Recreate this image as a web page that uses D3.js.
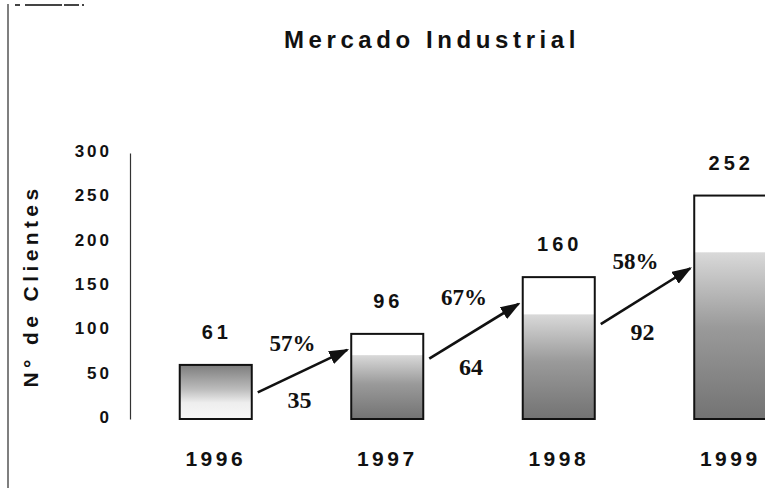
<!DOCTYPE html>
<html>
<head>
<meta charset="utf-8">
<title>Mercado Industrial</title>
<script src="https://cdn.jsdelivr.net/npm/d3@7"></script>
<style>
	html, body {
		margin: 0;
		padding: 0;
		background: #ffffff;
	}
	svg {
		display: block;
		font-family: "Liberation Sans", Arial, sans-serif;
	}
</style>
</head>
<body>
<div id="graph"></div>
<script>

// Chart data:
let years = ["1996", "1997", "1998", "1999"];
let clientes = [61, 96, 160, 252];
// Height the grey shading reaches inside each bar:
let shadeTop = [61, 72, 118, 188];
// Growth between consecutive years:
let growthPct = [57, 67, 58];
let growthAbs = [35, 64, 92];
// Where each arrow leaves / arrives (in axis units):
let arrowFrom = [30, 68, 107];
let arrowTo = [78, 130, 170];
let yTicks = [0, 50, 100, 150, 200, 250, 300];

let width = 765;
let height = 488;

let padding = {
	top: 153,
	bottom: 419,
	left: 130
	};

let svg = d3.select("#graph")
	.append("svg")
		.attr("width", width)
		.attr("height", height)
	;

// Scales:
let xScale = d3.scaleBand()
	.domain(years)
	.range([padding.left, 816])
	.paddingInner(0.58)
	.paddingOuter(0.29)
	;

let yScale = d3.scaleLinear()
	.domain([0, 300])
	.range([padding.bottom, padding.top])
	;

// Gradients for the bar shading:
let defs = svg.append("defs");

let gradUp = defs.append("linearGradient")
	.attr("id", "gradUp")
	.attr("x1", 0).attr("y1", 1)
	.attr("x2", 0).attr("y2", 0)
	;
gradUp.append("stop").attr("offset", "0%").attr("stop-color", "#737373");
gradUp.append("stop").attr("offset", "55%").attr("stop-color", "#9a9a9a");
gradUp.append("stop").attr("offset", "100%").attr("stop-color", "#d9d9d9");

// First bar was scanned the other way round (dark on top):
let gradDown = defs.append("linearGradient")
	.attr("id", "gradDown")
	.attr("x1", 0).attr("y1", 0)
	.attr("x2", 0).attr("y2", 1)
	;
gradDown.append("stop").attr("offset", "0%").attr("stop-color", "#7d7d7d");
gradDown.append("stop").attr("offset", "45%").attr("stop-color", "#bcbcbc");
gradDown.append("stop").attr("offset", "70%").attr("stop-color", "#eeeeee");
gradDown.append("stop").attr("offset", "100%").attr("stop-color", "#f7f7f7");

defs.append("marker")
	.attr("id", "arrowHead")
	.attr("markerUnits", "userSpaceOnUse")
	.attr("markerWidth", 20)
	.attr("markerHeight", 16)
	.attr("refX", 18)
	.attr("refY", 7)
	.attr("orient", "auto")
	.append("path")
		.attr("d", "M0,0 L20,7 L0,14 Z")
		.attr("fill", "#111")
	;

// Slide frame remains (left edge + top dashes):
svg.append("line")
	.attr("x1", 8).attr("x2", 8)
	.attr("y1", 4).attr("y2", height)
	.attr("stroke", "#555")
	.attr("stroke-width", 1.5)
	;
svg.append("line")
	.attr("x1", 15).attr("x2", 84)
	.attr("y1", 5).attr("y2", 5)
	.attr("stroke", "#444")
	.attr("stroke-width", 2)
	.attr("stroke-dasharray", "5,5,37,2,15,3")
	;

// Title:
svg.append("text")
	.attr("x", 432)
	.attr("y", 48)
	.attr("text-anchor", "middle")
	.style("font-size", "24px")
	.style("font-weight", "bold")
	.style("letter-spacing", "4.6px")
	.attr("fill", "#111")
	.text("Mercado Industrial")
	;

// Y axis:
let yAxis = d3.axisLeft(yScale)
	.tickValues(yTicks)
	.tickSize(0)
	.tickSizeOuter(0)
	.tickPadding(18)
	;
let yAxisG = svg.append("g")
	.attr("transform", `translate(${padding.left}, 0)`)
	.call(yAxis)
	;
yAxisG.select(".domain")
	.attr("stroke", "#333")
	.attr("stroke-width", 1.2)
	;
yAxisG.selectAll("text")
	.attr("dy", "0.2em")
	.attr("fill", "#111")
	.style("font-size", "17px")
	.style("font-weight", "bold")
	.style("letter-spacing", "3px")
	.style("font-family", "\"Liberation Sans\", Arial, sans-serif")
	;

// Y axis label:
svg.append("text")
	.attr("transform", "translate(38, 286) rotate(-90)")
	.attr("text-anchor", "middle")
	.style("font-size", "21px")
	.style("font-weight", "bold")
	.style("letter-spacing", "4.4px")
	.attr("fill", "#111")
	.text("N° de Clientes")
	;

// X axis (years):
let xAxis = d3.axisBottom(xScale)
	.tickSize(0)
	.tickPadding(32)
	;
let xAxisG = svg.append("g")
	.attr("transform", `translate(0, ${padding.bottom})`)
	.call(xAxis)
	;
xAxisG.select(".domain").remove();
xAxisG.selectAll("text")
	.attr("fill", "#111")
	.style("font-size", "21px")
	.style("font-weight", "bold")
	.style("letter-spacing", "3.5px")
	.style("font-family", "\"Liberation Sans\", Arial, sans-serif")
	;

// Bars: grey shading first, then the outline on top
svg.selectAll("rect.shade")
	.data(years)
	.enter()
	.append("rect")
		.attr("class", "shade")
		.attr("x", d => xScale(d))
		.attr("y", (d, i) => yScale(shadeTop[i]))
		.attr("width", xScale.bandwidth())
		.attr("height", (d, i) => yScale(0) - yScale(shadeTop[i]))
		.attr("fill", (d, i) => i === 0 ? "url(#gradDown)" : "url(#gradUp)")
	;

svg.selectAll("rect.outline")
	.data(years)
	.enter()
	.append("rect")
		.attr("class", "outline")
		.attr("x", d => xScale(d))
		.attr("y", (d, i) => yScale(clientes[i]))
		.attr("width", xScale.bandwidth())
		.attr("height", (d, i) => yScale(0) - yScale(clientes[i]))
		.attr("fill", "none")
		.attr("stroke", "#111")
		.attr("stroke-width", 2)
	;

// Value labels above bars:
svg.selectAll("text.value")
	.data(years)
	.enter()
	.append("text")
		.attr("class", "value")
		.attr("x", d => xScale(d) + xScale.bandwidth() / 2 + 1)
		.attr("y", (d, i) => yScale(clientes[i]) - 26)
		.attr("text-anchor", "middle")
		.style("font-size", "20px")
		.style("font-weight", "bold")
		.style("letter-spacing", "4px")
		.attr("fill", "#111")
		.text((d, i) => clientes[i])
	;

// Growth arrows between bars:
let gaps = growthPct.map((p, i) => i);

svg.selectAll("line.arrow")
	.data(gaps)
	.enter()
	.append("line")
		.attr("class", "arrow")
		.attr("x1", i => xScale(years[i]) + xScale.bandwidth() + 6)
		.attr("y1", i => yScale(arrowFrom[i]))
		.attr("x2", i => xScale(years[i + 1]) - 4)
		.attr("y2", i => yScale(arrowTo[i]))
		.attr("stroke", "#111")
		.attr("stroke-width", 2.6)
		.attr("marker-end", "url(#arrowHead)")
	;

// Midpoint between two bars:
function gapMid(i) {
	let left = xScale(years[i]) + xScale.bandwidth();
	let right = xScale(years[i + 1]);
	return (left + right) / 2;
	}

svg.selectAll("text.pct")
	.data(gaps)
	.enter()
	.append("text")
		.attr("class", "pct")
		.attr("x", i => gapMid(i) - 9)
		.attr("y", i => yScale(arrowTo[i]) + 1)
		.attr("text-anchor", "middle")
		.style("font-family", "\"Liberation Serif\", \"Times New Roman\", serif")
		.style("font-size", "23px")
		.style("font-weight", "bold")
		.attr("fill", "#111")
		.text(i => `${growthPct[i]}%`)
	;

svg.selectAll("text.abs")
	.data(gaps)
	.enter()
	.append("text")
		.attr("class", "abs")
		.attr("x", i => gapMid(i) - 2)
		.attr("y", i => yScale(arrowFrom[i]) + 16)
		.attr("text-anchor", "middle")
		.style("font-family", "\"Liberation Serif\", \"Times New Roman\", serif")
		.style("font-size", "24px")
		.style("font-weight", "bold")
		.attr("fill", "#111")
		.text(i => growthAbs[i])
	;

</script>
</body>
</html>
